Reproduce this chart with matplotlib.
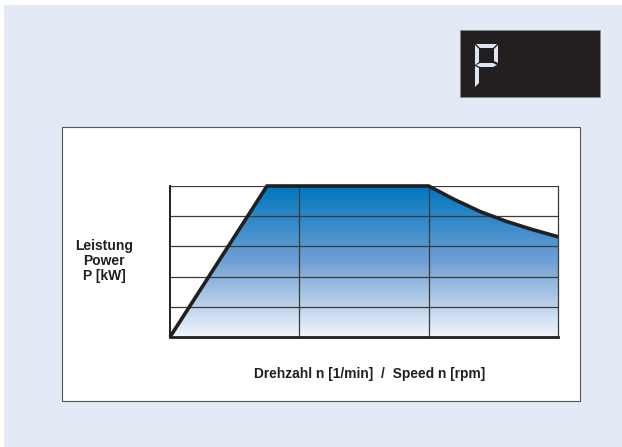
import numpy as np
import matplotlib.pyplot as plt
from matplotlib.colors import LinearSegmentedColormap
from matplotlib.patches import Rectangle, Polygon

plt.rcParams['font.family'] = ['Liberation Sans', 'DejaVu Sans']

# power curve (speed in grid units, power in grid units)
speed = [0.0, 0.75, 2.0, 2.2, 2.4, 2.6, 2.8, 3.0]
power = [0.0, 5.0, 5.0, 4.55, 4.15, 3.83, 3.56, 3.32]
ylabel = "Leistung\nPower\nP [kW]"
xlabel = "Drehzahl n [1/min]  /  Speed n [rpm]"

W, H = 622, 447
fig = plt.figure(figsize=(W / 100, H / 100), dpi=100)
fig.patch.set_facecolor('white')

# overlay in pixel coords for the frame and the display
bg = fig.add_axes([0, 0, 1, 1])
bg.set_xlim(0, W)
bg.set_ylim(H, 0)
bg.axis('off')
bg.add_patch(Rectangle((4, 5), W - 4, H - 5, facecolor='#e3eaf5',
                       edgecolor='none'))
bg.add_patch(Rectangle((61.5, 127), 518.5, 274, facecolor='white',
                       edgecolor='#555555', lw=0.8))
bg.add_patch(Rectangle((460, 30), 140, 67, facecolor='#231f20',
                       edgecolor='#888888', lw=0.6))

# seven-segment "P"
seg = '#dde6f2'
segs = [
    [(476, 44), (497, 44), (493, 48), (480, 48)],          # top
    [(475, 45), (479, 49), (479, 62), (475, 65)],          # upper left
    [(498, 45), (498, 63), (494, 61), (494, 49)],          # upper right
    [(476, 65), (480, 63), (493, 63), (497, 65), (493, 67), (480, 67)],  # middle
    [(475, 66), (479, 68), (479, 83), (475, 87)],          # lower left
]
for s in segs:
    bg.add_patch(Polygon(s, closed=True, facecolor=seg, edgecolor='none'))

ax = fig.add_axes([170 / W, (H - 337) / H, 388 / W, 151 / H])
ax.set_xlim(0, 3)
ax.set_ylim(0, 5)

cmap = LinearSegmentedColormap.from_list('pw', ['#f2f5fb', '#6fa0d4', '#0076bf'])
grad = np.linspace(0, 1, 256).reshape(-1, 1)
im = ax.imshow(grad, cmap=cmap, origin='lower', extent=[0, 3, 0, 5],
               aspect='auto', zorder=1)
clip = Polygon(list(zip(speed, power)) + [(3.0, 0.0)], closed=True,
               transform=ax.transData, facecolor='none', edgecolor='none')
ax.add_patch(clip)
im.set_clip_path(clip)

for xv in [1, 2]:
    ax.axvline(xv, color='#3a3a3a', lw=0.9, zorder=2)
for yv in [1, 2, 3, 4, 5]:
    ax.axhline(yv, color='#3a3a3a', lw=0.9, zorder=2)

ax.plot(speed, power, color='#231f20', lw=2.6, solid_capstyle='butt',
        solid_joinstyle='miter', zorder=4, clip_on=False)

ax.set_xticks([])
ax.set_yticks([])
ax.spines['top'].set_visible(False)
ax.spines['right'].set_color('#3a3a3a')
ax.spines['right'].set_linewidth(0.9)
ax.spines['left'].set_color('#231f20')
ax.spines['left'].set_linewidth(1.4)
ax.spines['bottom'].set_color('#231f20')
ax.spines['bottom'].set_linewidth(2.0)
ax.patch.set_alpha(0)

bg.text(104, 261, ylabel, ha='center', va='center', fontsize=10,
        fontweight='bold', color='#231f20', linespacing=1.05)
bg.text(369.5, 374, xlabel, ha='center', va='center', fontsize=9.9,
        fontweight='bold', color='#231f20')

fig.savefig('out.png', dpi=100, facecolor=fig.get_facecolor())
